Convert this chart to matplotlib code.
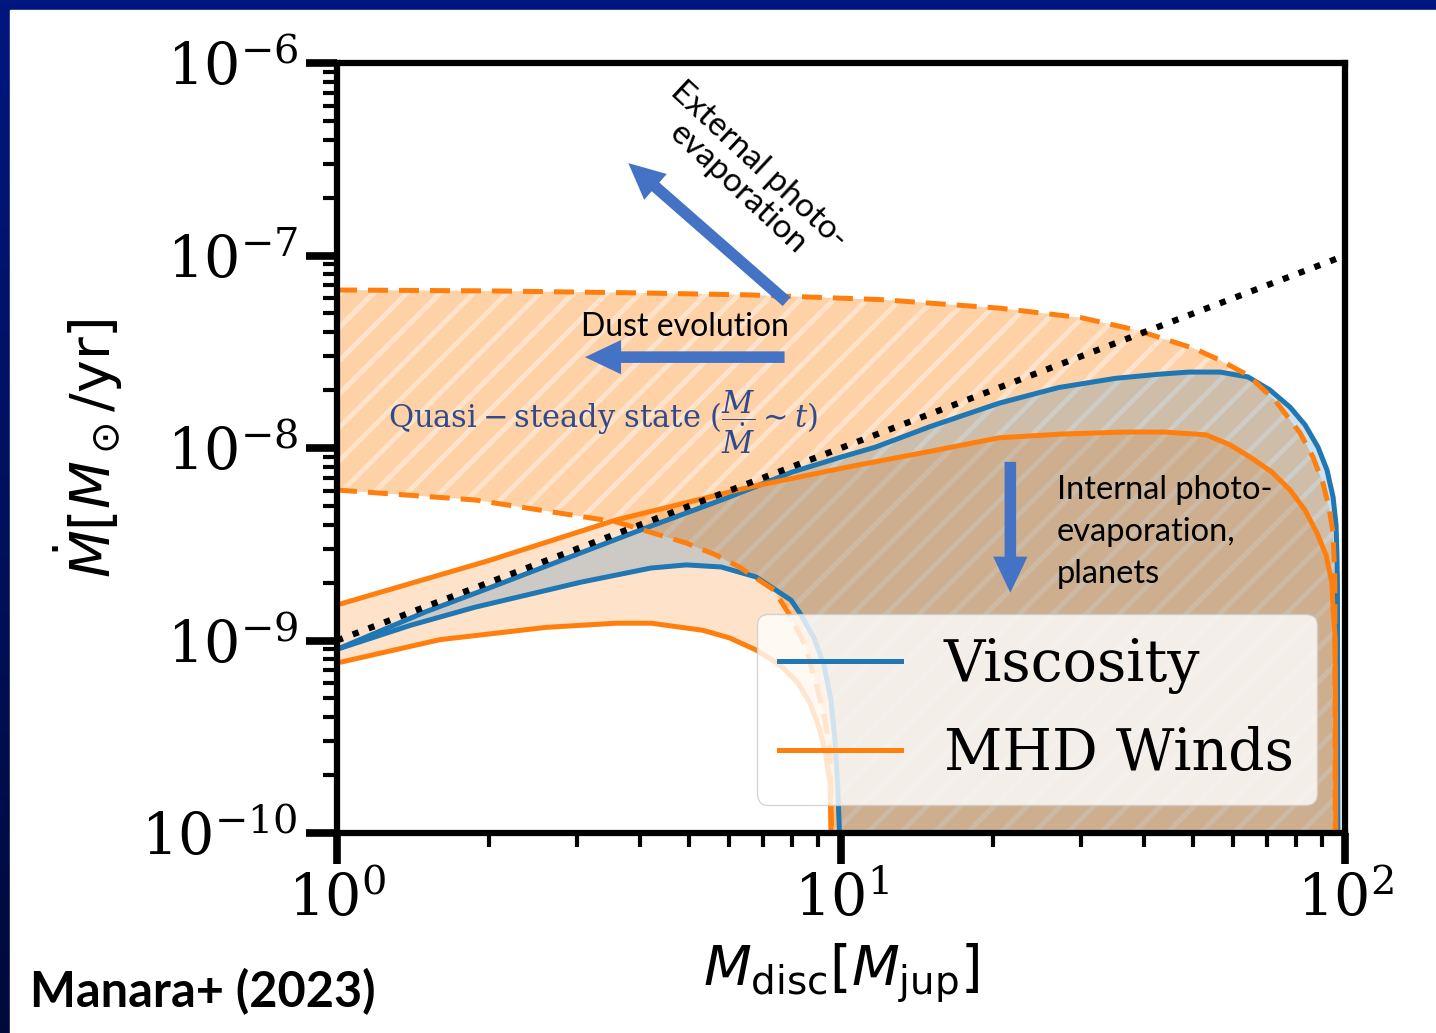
import numpy as np
import matplotlib
matplotlib.use("Agg")
import matplotlib.pyplot as plt
from matplotlib.patches import Rectangle
from matplotlib.colors import LinearSegmentedColormap

plt.rcParams['font.family'] = 'DejaVu Serif'
plt.rcParams['hatch.linewidth'] = 3.5

# Values (M_disc in M_jup, Mdot in Msun/yr)
visc_hi_m = [1, 1.5, 2, 3, 4, 6, 8, 10, 11.7, 15, 20.6, 27, 35, 43, 49, 56.5, 64.2, 71, 77.8, 83.3,
             88.4, 92.1, 94.7, 96, 96.4, 96.6, 97]
visc_hi_mdot = [9.0e-10, 1.41e-9, 1.87e-9, 2.81e-9, 3.75e-9, 5.56e-9, 7.5e-9, 8.97e-9, 1.01e-8, 1.29e-8,
                1.71e-8, 2.06e-8, 2.30e-8, 2.42e-8, 2.48e-8, 2.48e-8, 2.34e-8, 2.00e-8, 1.63e-8, 1.32e-8,
                1.01e-8, 7.69e-9, 5.56e-9, 3.98e-9, 2.78e-9, 1.99e-9, 1e-11]

visc_lo_m = [1, 1.4, 1.88, 3.05, 4.2, 4.93, 5.78, 6.78, 7.96, 8.33, 8.84, 9.25, 9.55, 9.73, 9.86,
             9.93, 9.95]
visc_lo_mdot = [9.0e-10, 1.2e-9, 1.49e-9, 2.01e-9, 2.38e-9, 2.47e-9, 2.41e-9, 2.14e-9, 1.62e-9, 1.36e-9,
                1.03e-9, 7.46e-10, 4.91e-10, 3.04e-10, 1.67e-10, 1e-10, 1e-11]

mhd_hi_m = [1, 2, 3.58, 6.6, 10.3, 15, 20.6, 27.2, 36.3, 43.9, 53, 59.1, 64.8, 71.6, 77.8, 83.3, 88,
            91.7, 94.2, 94.7, 95.5, 95.8, 96]
mhd_hi_mdot = [1.53e-9, 2.6e-9, 4.23e-9, 6.27e-9, 7.96e-9, 9.6e-9, 1.13e-8, 1.18e-8, 1.21e-8, 1.21e-8,
               1.17e-8, 1.04e-8, 8.97e-9, 7.5e-9, 6.05e-9, 4.76e-9, 3.61e-9, 2.78e-9, 1.99e-9, 1.44e-9,
               1.09e-9, 4.9e-10, 1e-11]

mhd_lo_m = [1, 1.6, 2.6, 3.58, 4.2, 5.32, 6.02, 6.78, 7.57, 8.22, 8.68, 9.04, 9.29, 9.51, 9.73]
mhd_lo_mdot = [7.64e-10, 1.01e-9, 1.17e-9, 1.23e-9, 1.23e-9, 1.13e-9, 1.03e-9, 8.93e-10, 7.46e-10,
               6.0e-10, 4.73e-10, 3.55e-10, 2.70e-10, 1.82e-10, 1e-11]

ext_hi_m = [1, 2, 4, 6.6, 12, 20.6, 30, 38.5, 50, 56.5, 64.2, 72.6, 81.4, 86.4, 90.4, 93, 94.7, 95.5,
            95.7]
ext_hi_mdot = [6.62e-8, 6.55e-8, 6.39e-8, 6.24e-8, 5.9e-8, 5.33e-8, 4.75e-8, 4.10e-8, 3.3e-8, 2.86e-8,
               2.39e-8, 1.77e-8, 1.20e-8, 8.97e-9, 6.58e-9, 4.88e-9, 3.61e-9, 1.99e-9, 1e-11]

ext_lo_m = [1, 1.88, 3.58, 4.93, 5.65, 6.28, 7.36, 7.96, 8.48, 8.92, 9.25, 9.51, 9.73]
ext_lo_mdot = [6.05e-9, 5.37e-9, 4.13e-9, 3.21e-9, 2.78e-9, 2.41e-9, 1.83e-9, 1.32e-9, 9.48e-10,
               6.0e-10, 4.1e-10, 2.70e-10, 1e-11]

guide_m = [1, 100]
guide_mdot = [1e-9, 1e-7]

blue = '#1f77b4'
orange = '#ff7f0e'
arrow_c = '#4472C4'

fig = plt.figure(figsize=(14.36, 10.33), dpi=100)

# slide background: blue gradient frame with white panel
bg = fig.add_axes([0, 0, 1, 1], zorder=-10)
cmap = LinearSegmentedColormap.from_list('slide', ['#00177f', '#000a3a'])
bg.imshow(np.linspace(0, 1, 256).reshape(-1, 1), cmap=cmap, aspect='auto', extent=[0, 1, 0, 1])
bg.add_patch(Rectangle((10 / 1436, 0), 1, 1 - 10 / 1033, transform=bg.transAxes, color='white'))
bg.set_xlim(0, 1)
bg.set_ylim(0, 1)
bg.set_xticks([])
bg.set_yticks([])
bg.axis('off')

ax = fig.add_axes([337 / 1436, 1 - 833 / 1033, 1008 / 1436, 770 / 1033])
ax.set_xscale('log')
ax.set_yscale('log')

# fills
ax.fill(ext_hi_m + ext_lo_m[::-1], ext_hi_mdot + ext_lo_mdot[::-1],
        facecolor=(1, 0.5, 0.05, 0.36), edgecolor=(1, 1, 1, 0.42), hatch='/', linewidth=0, zorder=1)
ax.fill(mhd_hi_m + mhd_lo_m[::-1], mhd_hi_mdot + mhd_lo_mdot[::-1],
        facecolor=orange, alpha=0.22, linewidth=0, zorder=1.1)
ax.fill(visc_hi_m + visc_lo_m[::-1], visc_hi_mdot + visc_lo_mdot[::-1],
        facecolor=blue, alpha=0.22, linewidth=0, zorder=1.2)

lw = 3.6
ax.plot(visc_hi_m, visc_hi_mdot, color=blue, lw=lw, label='Viscosity', zorder=2)
ax.plot(visc_lo_m, visc_lo_mdot, color=blue, lw=lw, zorder=2)
ax.plot(mhd_hi_m, mhd_hi_mdot, color=orange, lw=lw, label='MHD Winds', zorder=2.1)
ax.plot(mhd_lo_m, mhd_lo_mdot, color=orange, lw=lw, zorder=2.1)
ax.plot(ext_hi_m, ext_hi_mdot, color=orange, lw=lw, ls=(0, (4, 2.2)), zorder=2.2)
ax.plot(ext_lo_m, ext_lo_mdot, color=orange, lw=lw, ls=(0, (4, 2.2)), zorder=2.2)
ax.plot(guide_m, guide_mdot, color='black', lw=4.5, ls=(0, (1, 1.7)), zorder=2.3)

ax.set_xlim(1, 100)
ax.set_ylim(1e-10, 1e-6)

for s in ax.spines.values():
    s.set_linewidth(4.5)
ax.tick_params(which='major', length=22, width=5.5, direction='out', labelsize=41, pad=6)
ax.tick_params(which='minor', length=10, width=3, direction='out')

ax.set_xlabel(r'$M_{\rm disc}[M_{\rm jup}]$', fontsize=40, labelpad=10)
ax.set_ylabel(r'$\dot{M}[M_\odot/\mathrm{yr}]$', fontsize=40, labelpad=12)

leg = ax.legend(loc='lower right', fontsize=41, handlelength=2.14, handletextpad=0.75,
                borderpad=0.4, labelspacing=0.56, framealpha=0.8)
leg.set_zorder(5)

# annotations
arrow_style = 'simple,head_length=1.0,head_width=0.95,tail_width=0.32'
for tail, tip in [((0.446, 0.690), (0.289, 0.870)),
                  ((0.444, 0.618), (0.246, 0.618)),
                  ((0.668, 0.482), (0.668, 0.312))]:
    ax.annotate('', xy=tip, xytext=tail, xycoords='axes fraction', textcoords='axes fraction',
                arrowprops=dict(arrowstyle=arrow_style, mutation_scale=26, color=arrow_c,
                                lw=0, shrinkA=0, shrinkB=0), zorder=3)

sans = ['Lato', 'DejaVu Sans']
ax.text(0.408, 0.852, 'External photo-\nevaporation', transform=ax.transAxes, rotation=-43,
        ha='center', va='center', rotation_mode='anchor', multialignment='center',
        fontsize=24, family=sans, linespacing=1.05, zorder=4)
ax.text(0.345, 0.657, 'Dust evolution', transform=ax.transAxes, ha='center', va='center',
        fontsize=23, family=sans, zorder=4)
ax.text(0.264, 0.534, r'$\mathrm{Quasi-steady\ state}\ (\dfrac{M}{\dot{M}}\sim t)$',
        transform=ax.transAxes, ha='center', va='center', fontsize=22, color='#2F4B8C',
        math_fontfamily='dejavuserif', zorder=4)
ax.text(0.714, 0.391, 'Internal photo-\nevaporation,\nplanets', transform=ax.transAxes,
        ha='left', va='center', fontsize=23.5, family=sans, linespacing=1.5, zorder=4)

fig.text(30 / 1436, 1 - 992 / 1033, 'Manara+ (2023)', ha='left', va='center',
         fontsize=35, fontweight='bold', family=sans)

fig.savefig('out.png', dpi=100)
